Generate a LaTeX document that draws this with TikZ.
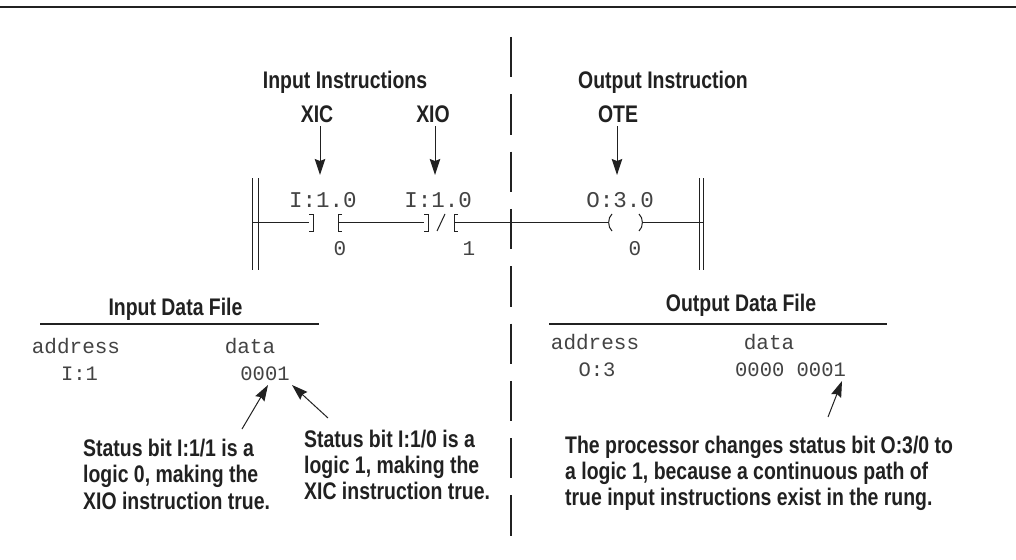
\documentclass[tikz,border=0pt]{standalone}
\usepackage{fontspec}
\setmainfont{Liberation Sans}
\newfontfamily\headf[FakeStretch=0.81]{Liberation Sans Bold}
\newfontfamily\monof{Liberation Mono}
\usetikzlibrary{arrows.meta}
\definecolor{ink}{gray}{0.13}
\tikzset{
 head/.style={inner sep=0pt,anchor=base,font=\headf\fontsize{24}{26}\selectfont,text=ink},
 note/.style={inner sep=0pt,font=\headf\fontsize{24}{26.3}\selectfont,text=ink,align=left,anchor=north west},
 mono/.style={inner sep=0pt,anchor=base,font=\monof\fontsize{20.5}{24}\selectfont,text=ink!85},
 monol/.style={inner sep=0pt,anchor=base,font=\monof\fontsize{21}{24}\selectfont,text=ink!85},
 monow/.style={inner sep=0pt,anchor=base,font=\monof\fontsize{22.5}{24}\selectfont,text=ink!85},
 wire/.style={line width=1pt,draw=ink},
 rule/.style={line width=1.3pt,draw=ink},
 arr/.style={line width=1pt,draw=ink,-{Stealth[length=16pt,width=10.5pt,inset=2pt]}}
}
\begin{document}
\begin{tikzpicture}[x=1pt,y=-1pt]
\useasboundingbox (0,0) rectangle (1016,559);
\fill[white] (0,0) rectangle (1016,559);
\coordinate (topL) at (0,7); \coordinate (topR) at (1016,7);
\draw[line width=1.6pt,draw=ink] (topL) -- (topR);
% centre dashed line
\coordinate (cT) at (511,37); \coordinate (cB) at (511,536);
\draw[line width=1.4pt,draw=ink,dash pattern=on 40.3pt off 17pt] (cT) -- (cB);
% headings
\node[head] (inH) at (345,89) {Input Instructions};
\node[head] (outH) at (663,89) {Output Instruction};
\node[head] (xic) at (317,122) {XIC};
\node[head] (xio) at (433,122) {XIO};
\node[head] (ote) at (618,122) {OTE};
% addresses
\node[monow] (a1) at (323,207) {I:1.0};
\node[monow] (a2) at (438,207) {I:1.0};
\node[monow] (a3) at (620,207) {O:3.0};
\coordinate (x1) at (320,126); \coordinate (x1e) at (320,175);
\coordinate (x2) at (435,126); \coordinate (x2e) at (435,175);
\coordinate (x3) at (617,126); \coordinate (x3e) at (617,175);
\draw[arr] (x1) -- (x1e);
\draw[arr] (x2) -- (x2e);
\draw[arr] (x3) -- (x3e);
% rails
\draw[wire] (252,178) -- (252,270);
\draw[wire] (258,178) -- (258,270);
\draw[wire] (699,178) -- (699,270);
\draw[wire] (703.5,178) -- (703.5,270);
% contacts
\coordinate (r0) at (252,222.5); \coordinate (r1) at (703.5,222.5);
\draw[wire] (r0) -- (309,222.5);
\draw[wire] (309,214.5) -- (313,214.5) -- (313,231) -- (309,231);
\draw[wire] (342,214.5) -- (338,214.5) -- (338,231) -- (342,231);
\draw[wire] (338,222.5) -- (424,222.5);
\draw[wire] (424,214.5) -- (428,214.5) -- (428,231) -- (424,231);
\draw[wire] (437,231) -- (445,214);
\draw[wire] (458,214.5) -- (454,214.5) -- (454,231) -- (458,231);
\draw[wire] (454,222.5) -- (608,222.5);
\draw[line width=1.4pt,draw=ink] (569,222.5) -- (579,222.5);
\draw[wire] (612,214) .. controls (607.5,218) and (607.5,227) .. (612,231);
\draw[wire] (639,214) .. controls (643.5,218) and (643.5,227) .. (639,231);
\draw[wire] (642.5,222.5) -- (r1);
% values
\node[monol] (v0) at (340,255) {0};
\node[monol] (v1) at (469,255) {1};
\node[monol] (v2) at (635,255) {0};
% input data file
\node[head] (idf) at (175.5,315) {Input Data File};
\coordinate (il) at (40,324); \coordinate (ir) at (319,324);
\draw[rule] (il) -- (ir);
\node[monol] (iad) at (76,353) {address};
\node[monol] (ida) at (250,353) {data};
\node[mono] (ii) at (79.5,380) {I:1};
\node[mono] (idv) at (265,380) {0001};
% output data file
\node[head] (odf) at (741,311) {Output Data File};
\coordinate (ol) at (549,324); \coordinate (or) at (887,324);
\draw[rule] (ol) -- (or);
\node[monol] (oad) at (595,349) {address};
\node[monol] (oda) at (769,349) {data};
\node[mono] (oi) at (597,376) {O:3};
\node[mono] (odv) at (790.5,376) {0000 0001};
% notes
\node[note] (n1) at (83,439) {Status bit I:1/1 is a\\logic 0, making the\\XIO instruction true.};
\node[note] (n2) at (304,429.5) {Status bit I:1/0 is a\\logic 1, making the\\XIC instruction true.};
\node[note] (n3) at (565,435.5) {The processor changes status bit O:3/0 to\\a logic 1, because a continuous path of\\true input instructions exist in the rung.};
\coordinate (p1) at (242,429); \coordinate (p2) at (268,385);
\coordinate (p3) at (328,418); \coordinate (p4) at (292,385);
\coordinate (p5) at (828,417); \coordinate (p6) at (842,381);
\draw[arr] (p1) -- (p2);
\draw[arr] (p3) -- (p4);
\draw[arr] (p5) -- (p6);
\end{tikzpicture}
\end{document}
